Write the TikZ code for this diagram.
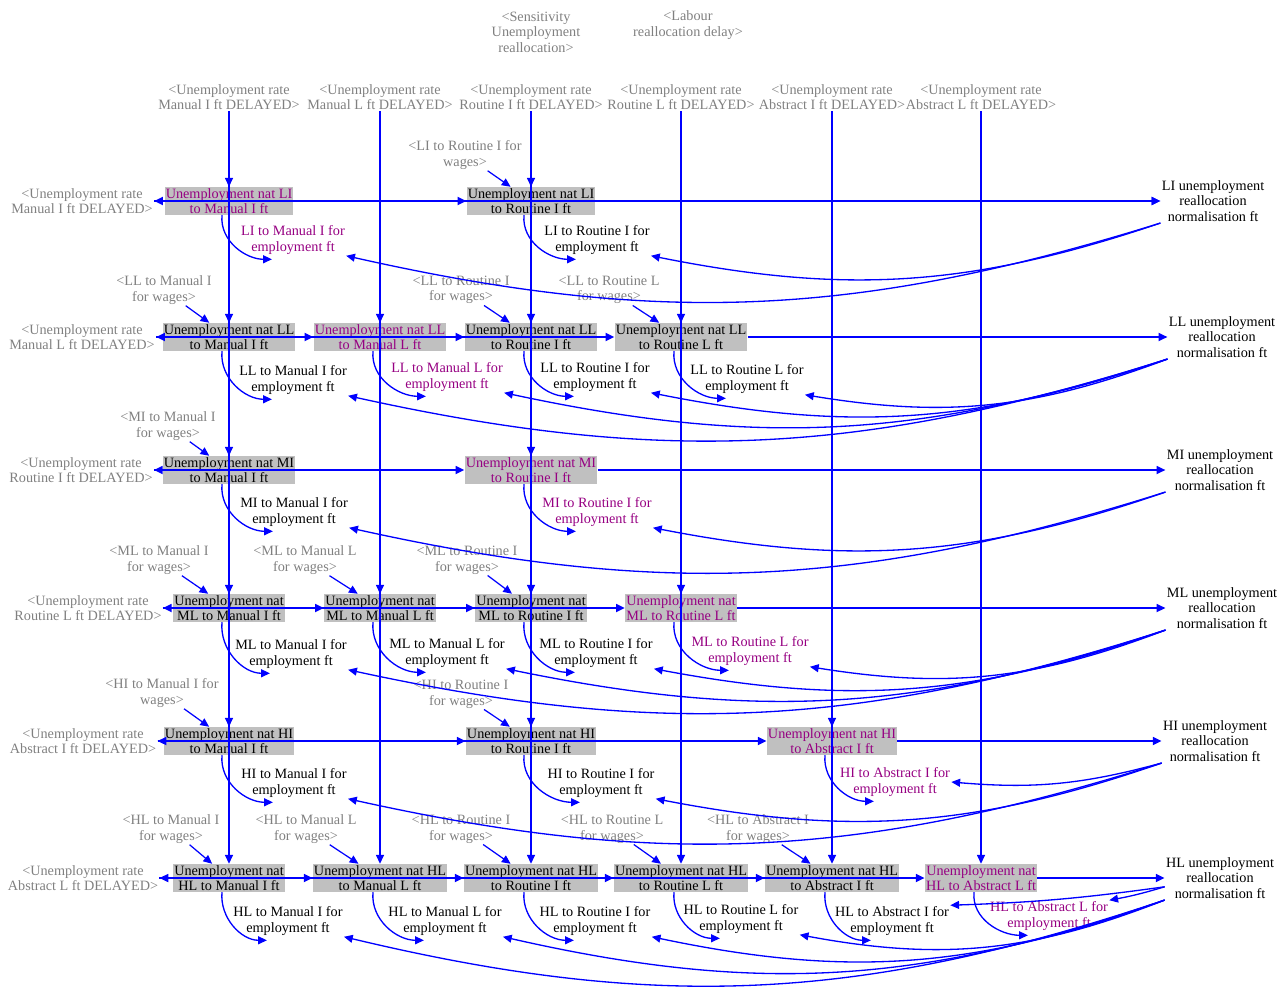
\documentclass[tikz,border=0pt]{standalone}
\usepackage{fontspec}
\setmainfont{Liberation Serif}
\usetikzlibrary{arrows.meta}

\definecolor{vblue}{RGB}{0,0,255}
\definecolor{vgrey}{RGB}{128,128,128}
\definecolor{vpurple}{RGB}{150,0,130}
\definecolor{vbox}{RGB}{192,192,192}

\begin{document}
\begin{tikzpicture}[x=0.02cm, y=-0.02cm,
  >={Triangle[length=5pt,width=4.5pt]},
  every node/.style={font=\fontsize{8.1}{8.9}\selectfont, align=center, inner sep=0.6pt},
  rate/.style={fill=vbox},
  hot/.style={text=vpurple},
  ghost/.style={text=vgrey},
  cause/.style={->, draw=vblue, line width=0.7pt},
  rowcause/.style={->, draw=vblue, line width=1.1pt},
  fback/.style={->, draw=vblue, line width=0.75pt}]
  \useasboundingbox (0,0) rectangle (1288,997);
  % skill columns (x) and source rows (y), in px
  \def\xMI{229} \def\xML{380} \def\xRI{531}
  \def\xRL{681} \def\xAI{832} \def\xAL{981}
  \def\yLI{201} \def\yLL{337} \def\yMI{470}
  \def\yML{608} \def\yHI{741} \def\yHL{878}

  % parameters on top
  \node[ghost] (sens) at (536,32) {<Sensitivity\\Unemployment\\reallocation>};
  \node[ghost] (delay) at (688,25) {<Labour\\reallocation delay>};

  % delayed unemployment rates, one per column
  \node[ghost] (tMI) at (\xMI,97) {<Unemployment rate\\Manual I ft DELAYED>};
  \node[ghost] (tML) at (\xML,97) {<Unemployment rate\\Manual L ft DELAYED>};
  \node[ghost] (tRI) at (\xRI,97) {<Unemployment rate\\Routine I ft DELAYED>};
  \node[ghost] (tRL) at (\xRL,97) {<Unemployment rate\\Routine L ft DELAYED>};
  \node[ghost] (tAI) at (\xAI,97) {<Unemployment rate\\Abstract I ft DELAYED>};
  \node[ghost] (tAL) at (\xAL,97) {<Unemployment rate\\Abstract L ft DELAYED>};

  % ---------- LI ----------
  \node[ghost] (rLI) at (82,\yLI) {<Unemployment rate\\Manual I ft DELAYED>};
  \node[rate,hot] (uLIMI) at (\xMI,\yLI) {Unemployment nat LI\\to Manual I ft};
  \node[rate] (uLIRI) at (\xRI,\yLI) {Unemployment nat LI\\to Routine I ft};
  \node[hot] (eLIMI) at (293,240) {LI to Manual I for\\employment ft};
  \node (eLIRI) at (597,240) {LI to Routine I for\\employment ft};
  \node[ghost] (wLIRI) at (465,155) {<LI to Routine I for\\wages>};
  \node (nLI) at (1213,\yLI) {LI unemployment\\reallocation\\normalisation ft};

  % ---------- LL ----------
  \node[ghost] (rLL) at (82,\yLL) {<Unemployment rate\\Manual L ft DELAYED>};
  \node[rate] (uLLMI) at (\xMI,\yLL) {Unemployment nat LL\\to Manual I ft};
  \node[rate,hot] (uLLML) at (\xML,\yLL) {Unemployment nat LL\\to Manual L ft};
  \node[rate] (uLLRI) at (\xRI,\yLL) {Unemployment nat LL\\to Routine I ft};
  \node[rate] (uLLRL) at (\xRL,\yLL) {Unemployment nat LL\\to Routine L ft};
  \node (eLLMI) at (293,380) {LL to Manual I for\\employment ft};
  \node[hot] (eLLML) at (447,377) {LL to Manual L for\\employment ft};
  \node (eLLRI) at (595,377) {LL to Routine I for\\employment ft};
  \node (eLLRL) at (747,379) {LL to Routine L for\\employment ft};
  \node[ghost] (wLLMI) at (164,290) {<LL to Manual I\\for wages>};
  \node[ghost] (wLLRI) at (461,290) {<LL to Routine I\\for wages>};
  \node[ghost] (wLLRL) at (609,290) {<LL to Routine L\\for wages>};
  \node (nLL) at (1222,\yLL) {LL unemployment\\reallocation\\normalisation ft};

  % ---------- MI ----------
  \node[ghost] (rMI) at (81,\yMI) {<Unemployment rate\\Routine I ft DELAYED>};
  \node[rate] (uMIMI) at (\xMI,\yMI) {Unemployment nat MI\\to Manual I ft};
  \node[rate,hot] (uMIRI) at (\xRI,\yMI) {Unemployment nat MI\\to Routine I ft};
  \node (eMIMI) at (294,512) {MI to Manual I for\\employment ft};
  \node[hot] (eMIRI) at (597,512) {MI to Routine I for\\employment ft};
  \node[ghost] (wMIMI) at (168,426) {<MI to Manual I\\for wages>};
  \node (nMI) at (1220,\yMI) {MI unemployment\\reallocation\\normalisation ft};

  % ---------- ML ----------
  \node[ghost] (rML) at (88,\yML) {<Unemployment rate\\Routine L ft DELAYED>};
  \node[rate] (uMLMI) at (\xMI,\yML) {Unemployment nat\\ML to Manual I ft};
  \node[rate] (uMLML) at (\xML,\yML) {Unemployment nat\\ML to Manual L ft};
  \node[rate] (uMLRI) at (\xRI,\yML) {Unemployment nat\\ML to Routine I ft};
  \node[rate,hot] (uMLRL) at (\xRL,\yML) {Unemployment nat\\ML to Routine L ft};
  \node (eMLMI) at (291,654) {ML to Manual I for\\employment ft};
  \node (eMLML) at (447,653) {ML to Manual L for\\employment ft};
  \node (eMLRI) at (596,653) {ML to Routine I for\\employment ft};
  \node[hot] (eMLRL) at (750,651) {ML to Routine L for\\employment ft};
  \node[ghost] (wMLMI) at (159,560) {<ML to Manual I\\for wages>};
  \node[ghost] (wMLML) at (305,560) {<ML to Manual L\\for wages>};
  \node[ghost] (wMLRI) at (467,560) {<ML to Routine I\\for wages>};
  \node (nML) at (1222,\yML) {ML unemployment\\reallocation\\normalisation ft};

  % ---------- HI ----------
  \node[ghost] (rHI) at (83,\yHI) {<Unemployment rate\\Abstract I ft DELAYED>};
  \node[rate] (uHIMI) at (\xMI,\yHI) {Unemployment nat HI\\to Manual I ft};
  \node[rate] (uHIRI) at (\xRI,\yHI) {Unemployment nat HI\\to Routine I ft};
  \node[rate,hot] (uHIAI) at (\xAI,\yHI) {Unemployment nat HI\\to Abstract I ft};
  \node (eHIMI) at (294,783) {HI to Manual I for\\employment ft};
  \node (eHIRI) at (601,783) {HI to Routine I for\\employment ft};
  \node[hot] (eHIAI) at (895,782) {HI to Abstract I for\\employment ft};
  \node[ghost] (wHIMI) at (162,693) {<HI to Manual I for\\wages>};
  \node[ghost] (wHIRI) at (461,694) {<HI to Routine I\\for wages>};
  \node (nHI) at (1215,\yHI) {HI unemployment\\reallocation\\normalisation ft};

  % ---------- HL ----------
  \node[ghost] (rHL) at (83,\yHL) {<Unemployment rate\\Abstract L ft DELAYED>};
  \node[rate] (uHLMI) at (\xMI,\yHL) {Unemployment nat\\HL to Manual I ft};
  \node[rate] (uHLML) at (\xML,\yHL) {Unemployment nat HL\\to Manual L ft};
  \node[rate] (uHLRI) at (\xRI,\yHL) {Unemployment nat HL\\to Routine I ft};
  \node[rate] (uHLRL) at (\xRL,\yHL) {Unemployment nat HL\\to Routine L ft};
  \node[rate] (uHLAI) at (\xAI,\yHL) {Unemployment nat HL\\to Abstract I ft};
  \node[rate,hot] (uHLAL) at (\xAL,\yHL) {Unemployment nat\\HL to Abstract L ft};
  \node (eHLMI) at (288,921) {HL to Manual I for\\employment ft};
  \node (eHLML) at (445,921) {HL to Manual L for\\employment ft};
  \node (eHLRI) at (595,921) {HL to Routine I for\\employment ft};
  \node (eHLRL) at (741,919) {HL to Routine L for\\employment ft};
  \node (eHLAI) at (892,921) {HL to Abstract I for\\employment ft};
  \node[hot] (eHLAL) at (1049,916) {HL to Abstract L for\\employment ft};
  \node[ghost] (wHLMI) at (171,829) {<HL to Manual I\\for wages>};
  \node[ghost] (wHLML) at (306,829) {<HL to Manual L\\for wages>};
  \node[ghost] (wHLRI) at (461,829) {<HL to Routine I\\for wages>};
  \node[ghost] (wHLRL) at (612,829) {<HL to Routine L\\for wages>};
  \node[ghost] (wHLAI) at (758,829) {<HL to Abstract I\\for wages>};
  \node (nHL) at (1220,\yHL) {HL unemployment\\reallocation\\normalisation ft};

  % column links: delayed rate -> each rate in that column
  \draw[cause] (tMI) -- (uLIMI);
  \draw[cause] (tMI) -- (uLLMI);
  \draw[cause] (tMI) -- (uMIMI);
  \draw[cause] (tMI) -- (uMLMI);
  \draw[cause] (tMI) -- (uHIMI);
  \draw[cause] (tMI) -- (uHLMI);
  \draw[cause] (tML) -- (uLLML);
  \draw[cause] (tML) -- (uMLML);
  \draw[cause] (tML) -- (uHLML);
  \draw[cause] (tRI) -- (uLIRI);
  \draw[cause] (tRI) -- (uLLRI);
  \draw[cause] (tRI) -- (uMIRI);
  \draw[cause] (tRI) -- (uMLRI);
  \draw[cause] (tRI) -- (uHIRI);
  \draw[cause] (tRI) -- (uHLRI);
  \draw[cause] (tRL) -- (uLLRL);
  \draw[cause] (tRL) -- (uMLRL);
  \draw[cause] (tRL) -- (uHLRL);
  \draw[cause] (tAI) -- (uHIAI);
  \draw[cause] (tAI) -- (uHLAI);
  \draw[cause] (tAL) -- (uHLAL);

  % row links
  \draw[rowcause] (uLIMI) -- (rLI);
  \draw[rowcause] (rLI) -- (uLIRI);
  \draw[rowcause] (uLIMI) -- (nLI);
  \draw[rowcause] (uLIRI) -- (nLI);

  \draw[rowcause] (uLLMI) -- (rLL);
  \draw[rowcause] (rLL) -- (uLLML);
  \draw[rowcause] (rLL) -- (uLLRI);
  \draw[rowcause] (rLL) -- (uLLRL);
  \draw[rowcause] (uLLRL) -- (nLL);

  \draw[rowcause] (uMIMI) -- (rMI);
  \draw[rowcause] (rMI) -- (uMIRI);
  \draw[rowcause] (uMIRI) -- (nMI);

  \draw[rowcause] (uMLMI) -- (rML);
  \draw[rowcause] (rML) -- (uMLML);
  \draw[rowcause] (rML) -- (uMLRI);
  \draw[rowcause] (rML) -- (uMLRL);
  \draw[rowcause] (uMLRL) -- (nML);

  \draw[rowcause] (uHIMI) -- (rHI);
  \draw[rowcause] (rHI) -- (uHIRI);
  \draw[rowcause] (rHI) -- (uHIAI);
  \draw[rowcause] (uHIAI) -- (nHI);

  \draw[rowcause] (uHLMI) -- (rHL);
  \draw[rowcause] (rHL) -- (uHLML);
  \draw[rowcause] (rHL) -- (uHLRI);
  \draw[rowcause] (rHL) -- (uHLRL);
  \draw[rowcause] (rHL) -- (uHLAI);
  \draw[rowcause] (rHL) -- (uHLAL);
  \draw[rowcause] (uHLAL) -- (nHL);

  % wages
  \draw[cause] (wLIRI) -- (uLIRI);
  \draw[cause] (wLLMI) -- (uLLMI);
  \draw[cause] (wLLRI) -- (uLLRI);
  \draw[cause] (wLLRL) -- (uLLRL);
  \draw[cause] (wMIMI) -- (uMIMI);
  \draw[cause] (wMLMI) -- (uMLMI);
  \draw[cause] (wMLML) -- (uMLML);
  \draw[cause] (wMLRI) -- (uMLRI);
  \draw[cause] (wHIMI) -- (uHIMI);
  \draw[cause] (wHIRI) -- (uHIRI);
  \draw[cause] (wHLMI) -- (uHLMI);
  \draw[cause] (wHLML) -- (uHLML);
  \draw[cause] (wHLRI) -- (uHLRI);
  \draw[cause] (wHLRL) -- (uHLRL);
  \draw[cause] (wHLAI) -- (uHLAI);

  % rate -> employment share
  \draw[fback] ([xshift=-4pt]uLIMI.south) to[out=-95,in=180] ([xshift=-12pt,yshift=-2pt]eLIMI.south);
  \draw[fback] ([xshift=-4pt]uLIRI.south) to[out=-95,in=180] ([xshift=-12pt,yshift=-2pt]eLIRI.south);
  \draw[fback] ([xshift=-4pt]uLLMI.south) to[out=-95,in=180] ([xshift=-12pt,yshift=-2pt]eLLMI.south);
  \draw[fback] ([xshift=-4pt]uLLML.south) to[out=-95,in=180] ([xshift=-12pt,yshift=-2pt]eLLML.south);
  \draw[fback] ([xshift=-4pt]uLLRI.south) to[out=-95,in=180] ([xshift=-12pt,yshift=-2pt]eLLRI.south);
  \draw[fback] ([xshift=-4pt]uLLRL.south) to[out=-95,in=180] ([xshift=-12pt,yshift=-2pt]eLLRL.south);
  \draw[fback] ([xshift=-4pt]uMIMI.south) to[out=-95,in=180] ([xshift=-12pt,yshift=-2pt]eMIMI.south);
  \draw[fback] ([xshift=-4pt]uMIRI.south) to[out=-95,in=180] ([xshift=-12pt,yshift=-2pt]eMIRI.south);
  \draw[fback] ([xshift=-4pt]uMLMI.south) to[out=-95,in=180] ([xshift=-12pt,yshift=-2pt]eMLMI.south);
  \draw[fback] ([xshift=-4pt]uMLML.south) to[out=-95,in=180] ([xshift=-12pt,yshift=-2pt]eMLML.south);
  \draw[fback] ([xshift=-4pt]uMLRI.south) to[out=-95,in=180] ([xshift=-12pt,yshift=-2pt]eMLRI.south);
  \draw[fback] ([xshift=-4pt]uMLRL.south) to[out=-95,in=180] ([xshift=-12pt,yshift=-2pt]eMLRL.south);
  \draw[fback] ([xshift=-4pt]uHIMI.south) to[out=-95,in=180] ([xshift=-12pt,yshift=-2pt]eHIMI.south);
  \draw[fback] ([xshift=-4pt]uHIRI.south) to[out=-95,in=180] ([xshift=-12pt,yshift=-2pt]eHIRI.south);
  \draw[fback] ([xshift=-4pt]uHIAI.south) to[out=-95,in=180] ([xshift=-12pt,yshift=-2pt]eHIAI.south);
  \draw[fback] ([xshift=-4pt]uHLMI.south) to[out=-95,in=180] ([xshift=-12pt,yshift=-2pt]eHLMI.south);
  \draw[fback] ([xshift=-4pt]uHLML.south) to[out=-95,in=180] ([xshift=-12pt,yshift=-2pt]eHLML.south);
  \draw[fback] ([xshift=-4pt]uHLRI.south) to[out=-95,in=180] ([xshift=-12pt,yshift=-2pt]eHLRI.south);
  \draw[fback] ([xshift=-4pt]uHLRL.south) to[out=-95,in=180] ([xshift=-12pt,yshift=-2pt]eHLRL.south);
  \draw[fback] ([xshift=-4pt]uHLAI.south) to[out=-95,in=180] ([xshift=-12pt,yshift=-2pt]eHLAI.south);
  \draw[fback] ([xshift=-4pt]uHLAL.south) to[out=-95,in=180] ([xshift=-12pt,yshift=-2pt]eHLAL.south);

  % normalisation -> employment shares
  \draw[fback] (nLI.south west) to[bend left=15] (eLIMI.south east);
  \draw[fback] (nLI.south west) to[bend left=15] (eLIRI.south east);
  \draw[fback] (nLL.south west) to[bend left=15] (eLLMI.south east);
  \draw[fback] (nLL.south west) to[bend left=15] (eLLML.south east);
  \draw[fback] (nLL.south west) to[bend left=15] (eLLRI.south east);
  \draw[fback] (nLL.south west) to[bend left=15] (eLLRL.south east);
  \draw[fback] (nMI.south west) to[bend left=15] (eMIMI.south east);
  \draw[fback] (nMI.south west) to[bend left=15] (eMIRI.south east);
  \draw[fback] (nML.south west) to[bend left=15] (eMLMI.south east);
  \draw[fback] (nML.south west) to[bend left=15] (eMLML.south east);
  \draw[fback] (nML.south west) to[bend left=15] (eMLRI.south east);
  \draw[fback] (nML.south west) to[bend left=15] (eMLRL.south east);
  \draw[fback] (nHI.south west) to[bend left=15] (eHIMI.south east);
  \draw[fback] (nHI.south west) to[bend left=15] (eHIRI.south east);
  \draw[fback] (nHI.south west) to[bend left=10] (eHIAI.east);
  \draw[fback] (nHL.south west) to[bend left=16] (eHLMI.south east);
  \draw[fback] (nHL.south west) to[bend left=16] (eHLML.south east);
  \draw[fback] (nHL.south west) to[bend left=16] (eHLRI.south east);
  \draw[fback] (nHL.south west) to[bend left=16] (eHLRL.south east);
  \draw[fback] ([yshift=-5pt]nHL.west) to[bend left=3] (eHLAI.north east);
  \draw[fback] ([yshift=-5pt]nHL.west) to[bend left=3] (eHLAL.north east);
\end{tikzpicture}
\end{document}
